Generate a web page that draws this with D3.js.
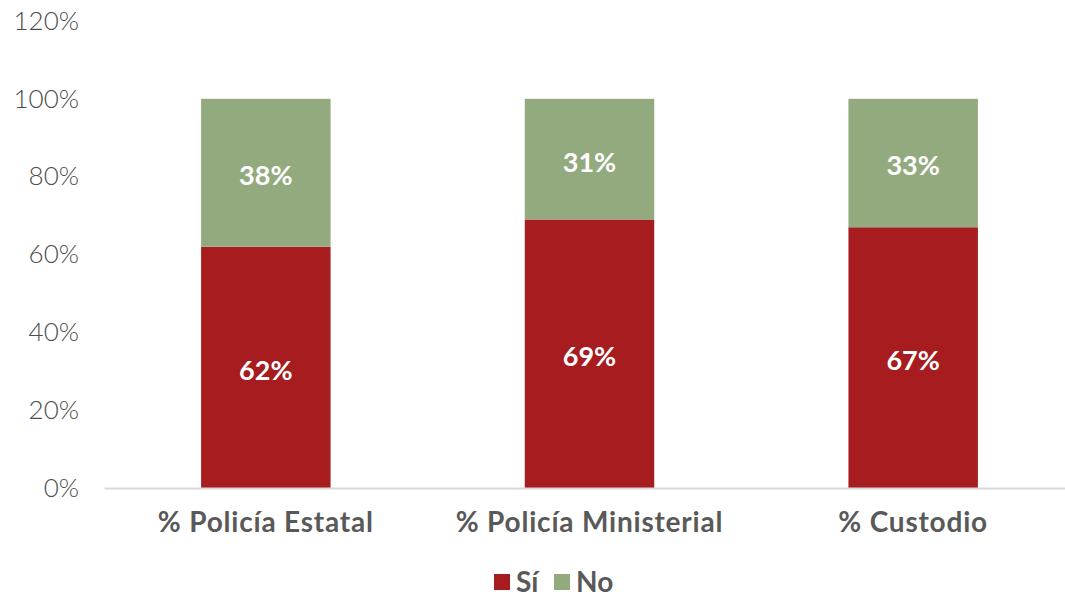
<!DOCTYPE html>
<html>
<head>
<meta charset="utf-8">
<script src="https://cdn.jsdelivr.net/npm/d3@7"></script>
<style>
  body { margin: 0; background: #fff; }
  svg, svg text { font-family: "Lato", "Open Sans", sans-serif; }
</style>
</head>
<body>
<div id="chart-area"></div>
<script>
const WIDTH = 1065;
const HEIGHT = 600;

const categories = ["% Policía Estatal", "% Policía Ministerial", "% Custodio"];
const siValues = [62, 69, 67];
const noValues = [38, 31, 33];
const series = ["Sí", "No"];
const yTicks = [0, 20, 40, 60, 80, 100, 120];

const color = d3.scaleOrdinal().domain(series).range(["#a61c1f", "#93aa7e"]);

const x = d3.scaleBand()
    .domain(categories)
    .range([104, 1075])
    .paddingInner(0.6)
    .paddingOuter(0.3);

const y = d3.scaleLinear()
    .domain([0, 120])
    .range([488, 21]);

const table = categories.map((c, i) => ({ category: c, "Sí": siValues[i], "No": noValues[i] }));
const stacked = d3.stack().keys(series)(table);

const svg = d3.select("#chart-area").append("svg")
    .attr("width", WIDTH)
    .attr("height", HEIGHT);

// y axis labels
const yAxis = svg.append("g")
    .attr("transform", "translate(79,0)")
    .call(d3.axisLeft(y).tickValues(yTicks).tickFormat(d => d + "%").tickSize(0).tickPadding(0));
yAxis.attr("font-family", null);
yAxis.select(".domain").remove();
yAxis.selectAll("text")
    .attr("fill", "#4d4d4d")
    .attr("font-size", 26)
    .attr("font-weight", 300);

// bars
svg.append("g")
    .selectAll("g")
    .data(stacked)
    .join("g")
    .attr("fill", d => color(d.key))
    .selectAll("rect")
    .data(d => d.map(v => ({ key: d.key, v })))
    .join("rect")
    .attr("x", d => x(d.v.data.category))
    .attr("y", d => y(d.v[1]))
    .attr("width", x.bandwidth())
    .attr("height", d => y(d.v[0]) - y(d.v[1]));

// data labels
svg.append("g")
    .selectAll("g")
    .data(stacked)
    .join("g")
    .selectAll("text")
    .data(d => d.map(v => ({ key: d.key, v })))
    .join("text")
    .attr("x", d => x(d.v.data.category) + x.bandwidth() / 2)
    .attr("y", d => (y(d.v[0]) + y(d.v[1])) / 2 + 3)
    .attr("dy", "0.35em")
    .attr("text-anchor", "middle")
    .attr("fill", "#fff")
    .attr("font-size", 27)
    .attr("font-weight", "bold")
    .text(d => d.v.data[d.key] + "%");

// x axis
const xAxis = svg.append("g")
    .attr("transform", "translate(0,488)")
    .call(d3.axisBottom(x).tickSize(0).tickPadding(24));
xAxis.attr("font-family", null);
xAxis.select(".domain").attr("stroke", "#d9d9d9").attr("stroke-width", 2);
xAxis.selectAll("text")
    .attr("fill", "#595959")
    .attr("font-size", 28)
    .attr("font-weight", "bold")
    .attr("letter-spacing", 0.8);

// legend
const legend = svg.append("g").attr("transform", "translate(494,582)");
const items = legend.selectAll("g")
    .data(series)
    .join("g")
    .attr("transform", (d, i) => `translate(${i * 60},0)`);
items.append("rect")
    .attr("x", 0).attr("y", -8)
    .attr("width", 16).attr("height", 16)
    .attr("fill", d => color(d));
items.append("text")
    .attr("x", 22)
    .attr("dy", "0.35em")
    .attr("fill", "#595959")
    .attr("font-size", 28)
    .attr("font-weight", "bold")
    .text(d => d);
</script>
</body>
</html>
